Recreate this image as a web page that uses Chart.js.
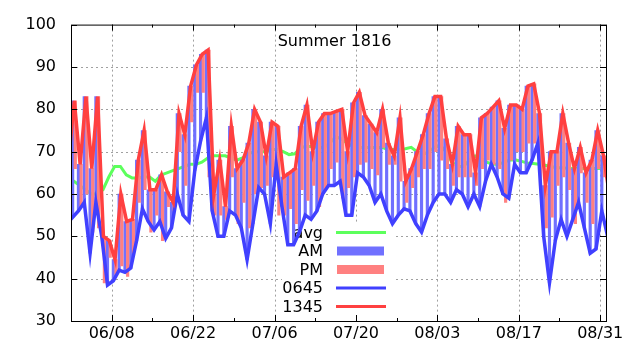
<!DOCTYPE html>
<html><head><meta charset="utf-8">
<script src="https://cdn.jsdelivr.net/npm/chart.js@4/dist/chart.umd.min.js"></script>
<style>html,body{margin:0;padding:0;background:#fff;}canvas{display:block;}</style>
</head><body>
<canvas id="c" width="640" height="360" style="width:640px;height:360px"></canvas>
<script>
const title = 'Summer 1816';
const year = 1816;
const rangeStart = '06/01';
const rangeEnd = '09/01';
const firstDate = '05/31';            // date of the first entry of every series
const tickLabels = ['06/08','06/22','07/06','07/20','08/03','08/17','08/31'];
const seriesNames = ['avg','AM','PM','0645','1345'];

// daily readings, 05/31 .. 09/01
const avg = [63,
 63,62,61,60,60,61,64,66.5,66.5,64.5,
 63.8,63.8,64,64,63,64.5,65,65.5,66,66.5,
 67,67,67.5,68.5,69,69,69,68.5,68,68.5,
 69.5,70,70,70,70.5,70.5,70,69.3,69.5,71,
 71.2,71.2,71,71,72,73.5,73,72,71.2,71,
 71,71,71,71,70.5,70.5,70.5,70.7,71,70,
 69.3,70,71,71.5,70,67.5,66.5,66.5,68,69,
 68.5,67.5,67,67,67.5,68,68,67.7,67.3,67.2,
 67,66.8,66.5,66.2,66.2,66,66,66,66,66,
 66,66,
 66];
const t0645 = [53,
 54.5,56,58,46,58,50,38.5,39.5,42,41.5,
 42.5,49,56.5,53.5,51.5,53.5,49.5,52,60,55,
 53.5,65.5,72.5,78,56,50,50,56,55,52,
 44.5,53,61.5,60,53,67,57,48,48,51,
 55,54,56,60,62,62,63,55,55,65,
 64,62,58,60,56,53,55,56.5,56,53,
 51,55,58,60,60,58,61,60,57,60,
 57,63,67,64,60,59,67,65,65,68,
 72,50,39,49,54,50,54,58,52,46,
 47,56,
 50];
const t1345 = [68,
 82,67,83,66,83,50,49,44.5,60,53.5,
 54,68,75,61,61,64.5,60.5,58,79,74,
 85.5,90.5,93,94,60,68,57,76,66,68,
 72,80,77,69,77,76,64,65,66,76,
 81,70,77,79,79,79.5,80,70,81.5,84,
 78.5,76.5,74.5,80,72,69,78,63,66,70,
 74,79,83,83,73,67,76,74,74,65,
 78,79,80.5,82,75.5,81,81,80,85.5,86,
 79,62,70,70,79,72,66,71,65,68,
 75,69,
 60];
const tEve = [60,
 66,57,60,51,52,39,45,41,43,40.5,
 46,58,61,51,55,49,57,56,70,62,
 77,84,84,64,55,55,54,64,53,58,
 52,60,61.5,62,64,55,55,56.5,53,61,
 58.5,62,57,61,66,67.5,59,61.5,64,67,
 67.5,66,64.5,71,67,67,63,58,61.5,64,
 66,66,70,68,66,62,64,64,64,62,
 66,68,67,66,58,68,70,70,72,72,
 62,52,54.5,62,64,61,53,65,58,53,
 66,64,
 58];

const colors = {avg:'#5cff5c', AM:'#7070ff', PM:'#ff8080', '0645':'#4040ff', '1345':'#ff4040'};
const FONT = '"DejaVu Sans", "Liberation Sans", sans-serif';

function dayOf(mmdd) {
  const [m, d] = mmdd.split('/').map(Number);
  const [m0, d0] = rangeStart.split('/').map(Number);
  return (Date.UTC(year, m - 1, d) - Date.UTC(year, m0 - 1, d0)) / 864e5;
}
function fracOf(hhmm) { return (Number(hhmm.slice(0, 2)) + Number(hhmm.slice(2)) / 60) / 24; }

const x0 = dayOf(firstDate);
const fAM = fracOf('0645'), fPM = fracOf('1345');
const tickDays = tickLabels.map(dayOf);
const labelAt = {}; tickLabels.forEach(l => { labelAt[dayOf(l)] = l; });
const minorDays = tickDays.slice(1).map((d, i) => (d + tickDays[i]) / 2);

const pts = (arr, off) => arr.map((v, i) => ({x: x0 + i + off, y: v}));

const datasets = [
  {type:'line', label:'avg', data: pts(avg, 0.5), borderColor: colors.avg, borderWidth: 3,
   pointRadius: 0, tension: 0, order: 5, clip: 0},
  {type:'bar', label:'AM', data: t0645.map((v, i) => ({x: x0 + i + 0.28, y: [v, t1345[i]]})),
   backgroundColor: colors.AM, borderWidth: 0, barThickness: 2.5, grouped: false, order: 4},
  {type:'bar', label:'PM', data: t1345.map((v, i) => ({x: x0 + i + 0.74, y: [v, tEve[i]]})),
   backgroundColor: colors.PM, borderWidth: 0, barThickness: 2.5, grouped: false, order: 3},
  {type:'line', label:'0645', data: pts(t0645, fAM), borderColor: colors['0645'], borderWidth: 3.5,
   pointRadius: 0, tension: 0, order: 2, clip: 0},
  {type:'line', label:'1345', data: pts(t1345, fPM), borderColor: colors['1345'], borderWidth: 3.5,
   pointRadius: 0, tension: 0, order: 1, clip: 0}
];

const gnuFrame = {
  id: 'gnuFrame',
  beforeDatasetsDraw(chart) {
    const {ctx, chartArea: a, scales: {x, y}} = chart;
    ctx.save();
    ctx.strokeStyle = '#a0a0a0';
    ctx.lineWidth = 1;
    ctx.setLineDash([2, 3]);
    y.ticks.forEach(t => {
      if (t.value <= y.min || t.value >= y.max) return;
      const py = Math.round(y.getPixelForValue(t.value)) + 0.5;
      ctx.beginPath(); ctx.moveTo(a.left, py); ctx.lineTo(a.right, py); ctx.stroke();
    });
    tickDays.forEach(d => {
      const px = Math.round(x.getPixelForValue(d)) + 0.5;
      ctx.beginPath(); ctx.moveTo(px, a.top); ctx.lineTo(px, a.bottom); ctx.stroke();
    });
    ctx.setLineDash([]);
    // opaque key area
    ctx.fillStyle = '#fff';
    ctx.fillRect(282, 223, 111, 95);
    // key
    ctx.font = '16px ' + FONT;
    ctx.textAlign = 'right';
    ctx.textBaseline = 'alphabetic';
    seriesNames.forEach((name, i) => {
      const base = 237.5 + i * 18.5;
      const cy = base - 5;
      ctx.fillStyle = '#000';
      ctx.fillText(name, 323, base);
      if (name === 'AM' || name === 'PM') {
        ctx.fillStyle = colors[name];
        ctx.fillRect(337, cy - 4.5, 47, 9);
      } else {
        ctx.strokeStyle = colors[name];
        ctx.lineWidth = 3;
        ctx.beginPath(); ctx.moveTo(336, cy); ctx.lineTo(386, cy); ctx.stroke();
      }
    });
    ctx.restore();
  },
  afterDatasetsDraw(chart) {
    const {ctx, chartArea: a, scales: {x, y}} = chart;
    ctx.save();
    ctx.strokeStyle = '#000';
    ctx.lineWidth = 1;
    // tics, pointing inwards
    y.ticks.forEach(t => {
      const py = Math.round(y.getPixelForValue(t.value)) + 0.5;
      ctx.beginPath();
      ctx.moveTo(a.left, py); ctx.lineTo(a.left + 6, py);
      ctx.moveTo(a.right, py); ctx.lineTo(a.right - 6, py);
      ctx.stroke();
    });
    tickDays.forEach(d => {
      const px = Math.round(x.getPixelForValue(d)) + 0.5;
      ctx.beginPath();
      ctx.moveTo(px, a.bottom); ctx.lineTo(px, a.bottom - 6);
      ctx.moveTo(px, a.top); ctx.lineTo(px, a.top + 6);
      ctx.stroke();
    });
    minorDays.forEach(d => {
      const px = Math.round(x.getPixelForValue(d)) + 0.5;
      ctx.beginPath();
      ctx.moveTo(px, a.bottom); ctx.lineTo(px, a.bottom - 3);
      ctx.moveTo(px, a.top); ctx.lineTo(px, a.top + 3);
      ctx.stroke();
    });
    ctx.strokeRect(a.left + 0.5, a.top + 0.5, a.right - a.left, a.bottom - a.top);
    // title
    ctx.fillStyle = '#000';
    ctx.font = '16px ' + FONT;
    ctx.textAlign = 'center';
    ctx.textBaseline = 'alphabetic';
    ctx.fillText(title, 334.5, 45.5);
    ctx.restore();
  }
};

new Chart(document.getElementById('c'), {
  type: 'bar',
  data: {datasets},
  options: {
    responsive: false,
    animation: false,
    events: [],
    devicePixelRatio: 1,
    layout: {padding: {left: 0, right: 34, top: 22, bottom: 0}},
    plugins: {legend: {display: false}, tooltip: {enabled: false}, title: {display: false}},
    scales: {
      x: {
        type: 'linear', min: dayOf(rangeStart), max: dayOf(rangeEnd), offset: false,
        afterBuildTicks: s => { s.ticks = tickDays.map(v => ({value: v})); },
        afterFit: s => { s.height = 39; },
        ticks: {autoSkip: false, maxRotation: 0, minRotation: 0, padding: 3, color: '#000',
                font: {family: FONT, size: 16}, callback: v => labelAt[v]},
        grid: {display: false, drawTicks: false},
        border: {display: false}
      },
      y: {
        min: 30, max: 100,
        afterFit: s => { s.width = 71; },
        ticks: {stepSize: 10, padding: 15, color: '#000', font: {family: FONT, size: 16}},
        grid: {display: false, drawTicks: false},
        border: {display: false}
      }
    }
  },
  plugins: [gnuFrame]
});
</script>
</body></html>
